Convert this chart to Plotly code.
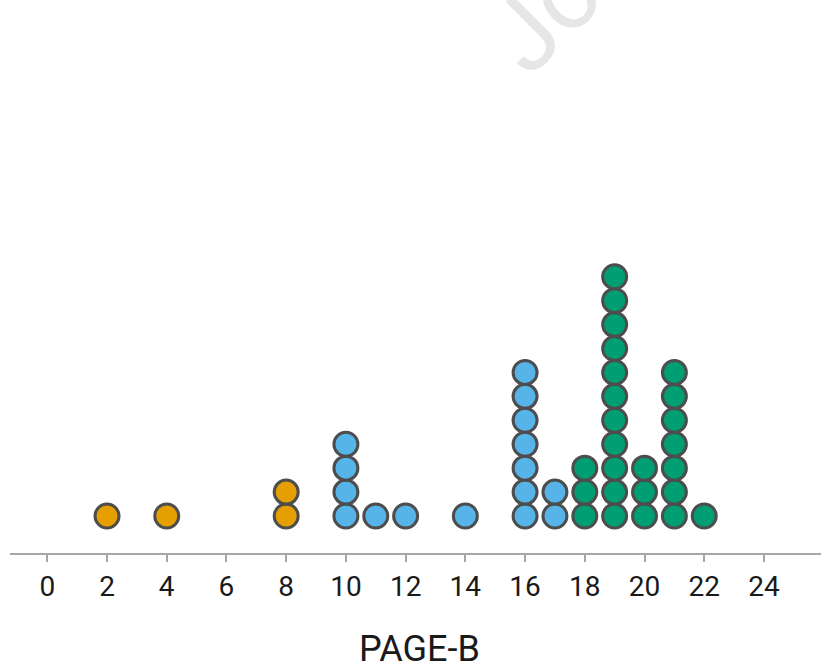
import plotly.graph_objects as go

# Score values and how many observations sit at each, per group
orange_scores = [2, 4, 8]
orange_counts = [1, 1, 2]
blue_scores = [10, 11, 12, 14, 16, 17]
blue_counts = [4, 1, 1, 1, 7, 2]
green_scores = [18, 19, 20, 21, 22]
green_counts = [3, 11, 3, 7, 1]

tick_values = [0, 2, 4, 6, 8, 10, 12, 14, 16, 18, 20, 22, 24]
tick_labels = [str(v) for v in tick_values]
axis_title = "PAGE-B"
watermark = "Jo"

groups = [
    (orange_scores, orange_counts, "#E69F00"),
    (blue_scores, blue_counts, "#56B4E9"),
    (green_scores, green_counts, "#009E73"),
]


def stack(scores, counts):
    xs, ys = [], []
    for s, n in zip(scores, counts):
        for k in range(1, n + 1):
            xs.append(s)
            ys.append(k)
    return xs, ys


fig = go.Figure()
for scores, counts, color in groups:
    xs, ys = stack(scores, counts)
    fig.add_trace(go.Scatter(
        x=xs, y=ys, mode="markers",
        marker=dict(size=24, color=color, line=dict(width=3, color="#4d4d4d")),
        showlegend=False, hoverinfo="x",
    ))

fig.add_annotation(
    text=watermark, xref="paper", yref="paper", x=0.658, y=0.987,
    xanchor="center", yanchor="middle", showarrow=False, textangle=-45,
    font=dict(family="Roboto", size=100, color="#e6e6e6"),
)
fig.add_annotation(
    text=axis_title, xref="paper", yref="paper", x=0.5055, y=-0.176,
    xanchor="center", yanchor="middle", showarrow=False,
    font=dict(family="Roboto", size=36, color="#1a1a1a"),
)

fig.update_layout(
    width=821, height=668,
    margin=dict(l=10, r=0, t=8, b=115),
    paper_bgcolor="white", plot_bgcolor="white",
    font=dict(family="Roboto", color="#1a1a1a"),
    xaxis=dict(
        range=[-1.249, 25.91], tickmode="array", tickvals=tick_values, ticktext=tick_labels,
        showgrid=False, zeroline=False, showline=True, linecolor="#a6a6a6", linewidth=2,
        ticks="outside", ticklen=7, tickwidth=2, tickcolor="#a6a6a6",
        tickfont=dict(family="Roboto", size=28, color="#1a1a1a"),
    ),
    yaxis=dict(range=[-0.546, 22.23], visible=False, showgrid=False, zeroline=False),
)

fig.write_html(
    "out.html",
    config={"displayModeBar": False},
    post_script="document.body.style.margin='0';document.body.style.overflow='hidden';",
)
